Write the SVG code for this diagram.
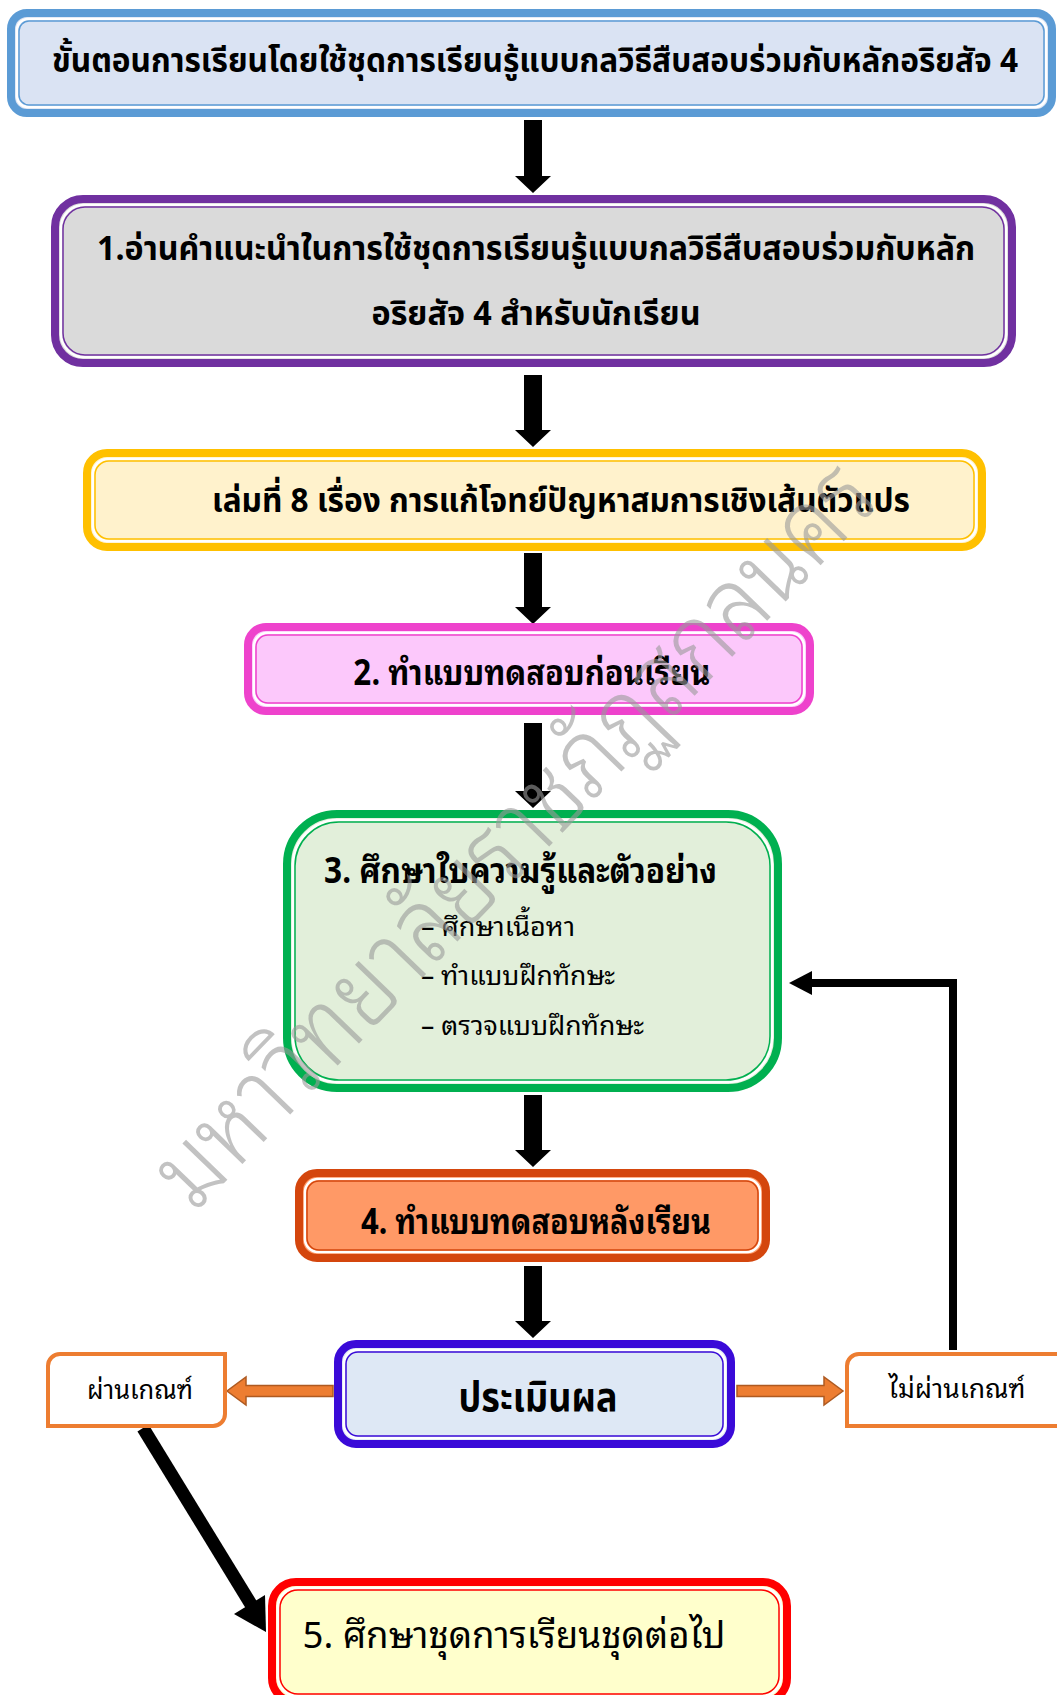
<svg xmlns="http://www.w3.org/2000/svg" width="1057" height="1695" viewBox="0 0 1057 1695">
<style>
text{font-family:"Noto Sans Thai","Noto Sans Thai Looped","Noto Sans","DejaVu Sans",sans-serif;fill:#000}
.lp{font-family:"Noto Sans Thai Looped","Noto Sans Thai","Noto Sans",sans-serif}
.b{font-weight:bold}
.c{text-anchor:middle}
.wl{fill:none;stroke:#fff;stroke-width:2.5}
.arrow{fill:#000}
.oarr{fill:#ED7D31;stroke:#AE5A21;stroke-width:1.5}
.lbl{fill:#fff;stroke:#ED7D31;stroke-width:4}
.wm{font-family:"Noto Sans Thai Looped","Noto Sans Thai",sans-serif;fill:#9a9a9a;fill-opacity:0.6;font-weight:300;font-size:104px}
</style>
<g id="connectors">
<path class="arrow" d="M524,120H542V176H551L533,193L515,176H524Z"/>
<path class="arrow" d="M524,375H542V430H551L533,447L515,430H524Z"/>
<path class="arrow" d="M524,553H542V607H551L533,624L515,607H524Z"/>
<path class="arrow" d="M524,723H542V791H551L533,808L515,791H524Z"/>
<path class="arrow" d="M524,1095H542V1150H551L533,1167L515,1150H524Z"/>
<path class="arrow" d="M524,1266H542V1321H551L533,1338L515,1321H524Z"/>
<polyline points="953,1350 953,983 810,983" fill="none" stroke="#000" stroke-width="8"/>
<polygon points="789,983 812,971 812,995" fill="#000"/>
<line x1="143" y1="1428" x2="252" y2="1606" stroke="#000" stroke-width="13"/>
<polygon points="266,1632 234,1614 265,1595" fill="#000"/>
<path class="oarr" d="M333,1385.5H246V1377L227,1391L246,1405V1396.5H333Z"/>
<path class="oarr" d="M737,1385.5H824V1377L843,1391L824,1405V1396.5H737Z"/>
</g>
<g id="title">
<rect x="11" y="13" width="1041" height="100" rx="16" fill="#DAE3F3" stroke="#5B9BD5" stroke-width="8"/>
<rect x="17" y="19" width="1029" height="88" rx="11" class="wl"/>
<rect x="19" y="21" width="1025" height="84" rx="10" fill="none" stroke="#5B9BD5" stroke-width="1.5"/>
<text class="b c" x="535" y="72" font-size="34" textLength="966" lengthAdjust="spacingAndGlyphs">ขั้นตอนการเรียนโดยใช้ชุดการเรียนรู้แบบกลวิธีสืบสอบร่วมกับหลักอริยสัจ 4</text>
</g>
<g id="step1">
<rect x="55" y="199" width="957" height="164" rx="28" fill="#DADADA" stroke="#7030A0" stroke-width="8"/>
<rect x="61" y="205" width="945" height="152" rx="23" class="wl"/>
<rect x="63" y="207" width="941" height="148" rx="22" fill="none" stroke="#7030A0" stroke-width="1.5"/>
<text class="b c" x="536" y="260" font-size="34" textLength="878" lengthAdjust="spacingAndGlyphs">1.อ่านคำแนะนำในการใช้ชุดการเรียนรู้แบบกลวิธีสืบสอบร่วมกับหลัก</text>
<text class="b c" x="536" y="325" font-size="34" textLength="329" lengthAdjust="spacingAndGlyphs">อริยสัจ 4 สำหรับนักเรียน</text>
</g>
<g id="book">
<rect x="87" y="453" width="895" height="94" rx="20" fill="#FFF2CC" stroke="#FFC000" stroke-width="8"/>
<rect x="93" y="459" width="883" height="82" rx="15" class="wl"/>
<rect x="95" y="461" width="879" height="78" rx="14" fill="none" stroke="#FFC000" stroke-width="1.5"/>
<text class="b c" x="561" y="512" font-size="34" textLength="698" lengthAdjust="spacingAndGlyphs">เล่มที่ 8 เรื่อง การแก้โจทย์ปัญหาสมการเชิงเส้นตัวแปร</text>
</g>
<g id="step2">
<rect x="248" y="627" width="562" height="84" rx="18" fill="#FCC8FB" stroke="#EE42CC" stroke-width="8"/>
<rect x="254" y="633" width="550" height="72" rx="13" class="wl"/>
<rect x="256" y="635" width="546" height="68" rx="12" fill="none" stroke="#EE42CC" stroke-width="1.5"/>
<text class="lp b c" x="532" y="685" font-size="35" textLength="357" lengthAdjust="spacingAndGlyphs">2. ทำแบบทดสอบก่อนเรียน</text>
</g>
<g id="step3">
<rect x="287" y="814" width="491" height="274" rx="50" fill="#E2EFDA" stroke="#00B050" stroke-width="8"/>
<rect x="293" y="820" width="479" height="262" rx="45" class="wl"/>
<rect x="295" y="822" width="475" height="258" rx="44" fill="none" stroke="#00B050" stroke-width="1.5"/>
<text class="lp b" x="324" y="883" font-size="35" textLength="393" lengthAdjust="spacingAndGlyphs">3. ศึกษาใบความรู้และตัวอย่าง</text>
<text class="lp" x="421" y="936" font-size="27" textLength="154" lengthAdjust="spacingAndGlyphs">– ศึกษาเนื้อหา</text>
<text class="lp" x="421" y="985" font-size="27" textLength="194" lengthAdjust="spacingAndGlyphs">– ทำแบบฝึกทักษะ</text>
<text class="lp" x="421" y="1035" font-size="27" textLength="223" lengthAdjust="spacingAndGlyphs">– ตรวจแบบฝึกทักษะ</text>
</g>
<g id="step4">
<rect x="299" y="1173" width="467" height="85" rx="18" fill="#FF9966" stroke="#D4460D" stroke-width="8"/>
<rect x="305" y="1179" width="455" height="73" rx="13" class="wl"/>
<rect x="307" y="1181" width="451" height="69" rx="12" fill="none" stroke="#D4460D" stroke-width="1.5"/>
<text class="lp b c" x="536" y="1234" font-size="35" textLength="350" lengthAdjust="spacingAndGlyphs">4. ทำแบบทดสอบหลังเรียน</text>
</g>
<g id="evaluate">
<rect x="338" y="1344" width="393" height="100" rx="18" fill="#DEE8F5" stroke="#3A0AD8" stroke-width="8"/>
<rect x="344" y="1350" width="381" height="88" rx="13" class="wl"/>
<rect x="346" y="1352" width="377" height="84" rx="12" fill="none" stroke="#3A0AD8" stroke-width="1.5"/>
<text class="b c" x="538" y="1411" font-size="40" textLength="159" lengthAdjust="spacingAndGlyphs">ประเมินผล</text>
</g>
<g id="pass">
<path class="lbl" d="M48,1366A12,12 0 0 1 60,1354H225V1414A12,12 0 0 1 213,1426H48Z"/>
<text class="lp c" x="140" y="1399" font-size="26" textLength="106" lengthAdjust="spacingAndGlyphs">ผ่านเกณฑ์</text>
</g>
<g id="fail">
<path class="lbl" d="M1062,1354H859A12,12 0 0 0 847,1366V1426H1062"/>
<text class="lp c" x="957" y="1398" font-size="26" textLength="137" lengthAdjust="spacingAndGlyphs">ไม่ผ่านเกณฑ์</text>
</g>
<g id="step5">
<rect x="272" y="1582" width="515" height="120" rx="24" fill="#FFFFCC" stroke="#FF0000" stroke-width="8"/>
<rect x="278" y="1588" width="503" height="108" rx="19" class="wl"/>
<rect x="280" y="1590" width="499" height="104" rx="18" fill="none" stroke="#FF0000" stroke-width="1.5"/>
<text class="lp c" x="514" y="1648" font-size="36" textLength="423" lengthAdjust="spacingAndGlyphs">5. ศึกษาชุดการเรียนชุดต่อไป</text>
</g>
<g id="watermark">
<text class="wm" x="538" y="858" text-anchor="middle" textLength="990" lengthAdjust="spacingAndGlyphs" transform="rotate(-46 538 858)">มหาวิทยาลัยราชภัฏสกลนคร</text>
</g>
</svg>
